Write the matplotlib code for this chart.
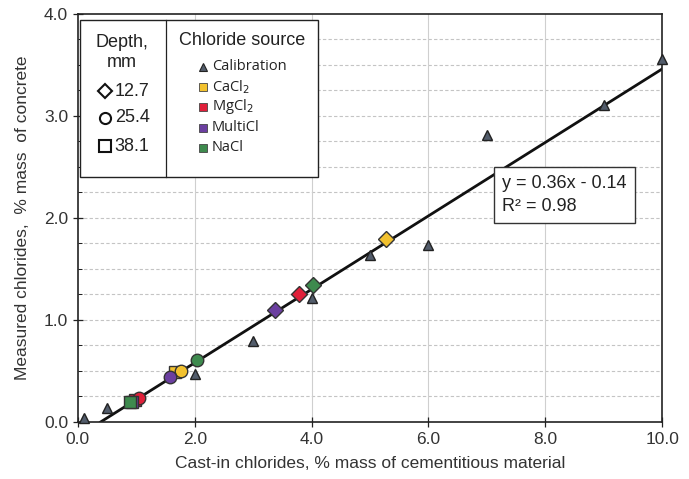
import matplotlib
matplotlib.use("Agg")
import matplotlib.pyplot as plt
import numpy as np
from matplotlib.patches import Rectangle
from matplotlib.lines import Line2D
from matplotlib.ticker import MultipleLocator

plt.rcParams['font.family'] = ['Liberation Sans', 'DejaVu Sans']

# Calibration data
cal_x = [0.1, 0.5, 2.0, 3.0, 4.0, 5.0, 6.0, 7.0, 9.0, 10.0]
cal_y = [0.04, 0.14, 0.47, 0.79, 1.22, 1.64, 1.73, 2.81, 3.11, 3.56]

# Field samples: (source, depth) -> (x, y)
sources = ["CaCl2", "MgCl2", "MultiCl", "NaCl"]
source_labels = ["CaCl$_2$", "MgCl$_2$", "MultiCl", "NaCl"]
colors = {"CaCl2": "#F2C12E", "MgCl2": "#E0203A", "MultiCl": "#6B3FA0", "NaCl": "#3E8A4E"}
depths = ["12.7", "25.4", "38.1"]
depth_markers = {"12.7": "D", "25.4": "o", "38.1": "s"}

samples_x = {
    "CaCl2":   {"12.7": 5.28, "25.4": 1.77, "38.1": 1.67},
    "MgCl2":   {"12.7": 3.78, "25.4": 1.05, "38.1": 0.98},
    "MultiCl": {"12.7": 3.38, "25.4": 1.58, "38.1": 0.92},
    "NaCl":    {"12.7": 4.03, "25.4": 2.04, "38.1": 0.90},
}
samples_y = {
    "CaCl2":   {"12.7": 1.79, "25.4": 0.50, "38.1": 0.49},
    "MgCl2":   {"12.7": 1.25, "25.4": 0.24, "38.1": 0.22},
    "MultiCl": {"12.7": 1.10, "25.4": 0.44, "38.1": 0.20},
    "NaCl":    {"12.7": 1.34, "25.4": 0.61, "38.1": 0.20},
}

slope, intercept = 0.36, -0.14
fit_x = [0.39, 10.0]

xticks = [0, 2, 4, 6, 8, 10]
xticklabels = ["0.0", "2.0", "4.0", "6.0", "8.0", "10.0"]
yticks = [0, 1, 2, 3, 4]
yticklabels = ["0.0", "1.0", "2.0", "3.0", "4.0"]

fig = plt.figure(figsize=(6.89, 4.79), dpi=100)
ax = fig.add_axes([0.113, 0.119, 0.848, 0.852])
ax.set_xlim(0, 10)
ax.set_ylim(0, 4)

# grid
for yv in np.arange(0.25, 4.0, 0.25):
    ax.axhline(yv, color="#C4C4C4", lw=0.8, ls=(0, (3, 2)), zorder=0)
for xv in [2, 4, 6, 8]:
    ax.axvline(xv, color="#CFCFCF", lw=0.8, zorder=0)

# fit line
fx = np.array(fit_x)
ax.plot(fx, slope * fx + intercept, color="#111111", lw=2, zorder=2)

# calibration
ax.plot(cal_x, cal_y, ls="none", marker="^", ms=6.5, mfc="#525C6B",
        mec="#222222", mew=1.0, zorder=3, clip_on=False)

# samples (draw deeper first so surface on top)
order = ["38.1", "25.4", "12.7"]
for s in sources:
    for d in order:
        ax.plot(samples_x[s][d], samples_y[s][d], ls="none",
                marker=depth_markers[d], ms=9 if d != "12.7" else 8,
                mfc=colors[s], mec="#333333", mew=1.0, zorder=4)

ax.set_xticks(xticks)
ax.set_xticklabels(xticklabels)
ax.set_yticks(yticks)
ax.set_yticklabels(yticklabels)
ax.yaxis.set_minor_locator(MultipleLocator(0.25))
ax.tick_params(axis="both", which="major", labelsize=12.5, direction="inout",
               length=7, width=0.9, colors="#222222", labelcolor="#333333")
ax.tick_params(axis="y", which="minor", direction="in", length=3, width=0.6)
for sp in ax.spines.values():
    sp.set_color("#222222")
    sp.set_linewidth(1.2)

ax.set_xlabel("Cast-in chlorides, % mass of cementitious material",
              fontsize=12.5, color="#333333", labelpad=7)
ax.set_ylabel("Measured chlorides,  % mass  of concrete",
              fontsize=12.5, color="#333333", labelpad=10)

# ---- Legend (manual) ----
T = ax.transAxes
ax.add_patch(Rectangle((0.004, 0.600), 0.407, 0.385, transform=T,
                       fill=True, fc="white", ec="#222222", lw=1.0, zorder=6))
ax.add_line(Line2D([0.151, 0.151], [0.600, 0.985], transform=T,
                   color="#222222", lw=0.9, zorder=7))
ax.text(0.076, 0.930, "Depth,", transform=T, ha="center", va="center",
        fontsize=13, color="#222222", zorder=8)
ax.text(0.076, 0.880, "mm", transform=T, ha="center", va="center",
        fontsize=13, color="#222222", zorder=8)
dy = [0.811, 0.745, 0.676]
for d, yy in zip(depths, dy):
    ax.plot([0.046], [yy], transform=T, marker=depth_markers[d],
            ms=8 if d != "12.7" else 7, mfc="white", mec="#111111", mew=1.5,
            ls="none", zorder=8, clip_on=False)
    ax.text(0.063, yy, d, transform=T, ha="left", va="center",
            fontsize=13, color="#222222", zorder=8)

ax.text(0.281, 0.935, "Chloride source", transform=T, ha="center",
        va="center", fontsize=13, color="#222222", zorder=8)
ey = [0.870, 0.821, 0.772, 0.721, 0.672]
ax.plot([0.214], [ey[0]], transform=T, marker="^", ms=5.5, mfc="#525C6B",
        mec="#222222", mew=0.8, ls="none", zorder=8, clip_on=False)
ax.text(0.229, ey[0], "Calibration", transform=T, ha="left", va="center",
        fontsize=10.5, family=["Open Sans", "DejaVu Sans"], color="#222222", zorder=8)
for s, lab, yy in zip(sources, source_labels, ey[1:]):
    ax.plot([0.214], [yy], transform=T, marker="s", ms=6, mfc=colors[s],
            mec="#444444", mew=0.6, ls="none", zorder=8, clip_on=False)
    ax.text(0.229, yy, lab, transform=T, ha="left", va="center",
            fontsize=10.5, family=["Open Sans", "DejaVu Sans"], color="#222222", zorder=8)

# equation box
ax.text(0.726, 0.556, "y = 0.36x - 0.14\nR\u00b2 = 0.98", transform=T,
        ha="left", va="center", fontsize=13, color="#222222",
        linespacing=1.45, zorder=8,
        bbox=dict(boxstyle="square,pad=0.45", fc="white", ec="#333333", lw=1.0))

fig.savefig("out.png", dpi=100)
